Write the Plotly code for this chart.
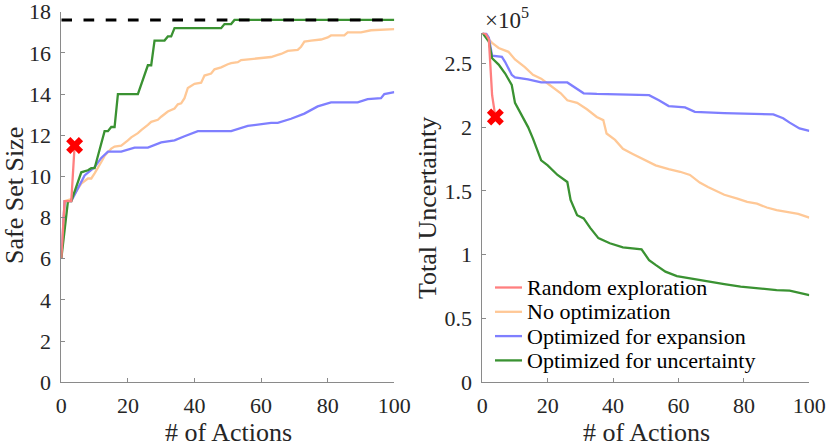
import plotly.graph_objects as go

# ---- left panel: safe set size ----
rand_x_l = [0, 1, 3, 4]
rand_y_l = [6, 8.8, 8.8, 11.5]

noopt_x_l = [0, 1, 3, 6, 8, 9, 10, 11, 12, 13, 15, 16, 18, 20, 21, 23, 24, 26, 27, 29,
             30, 32, 34, 35, 36, 37, 38, 40, 42, 43, 45, 46, 48, 50, 51, 53, 54, 57, 61, 63,
             65, 66, 68, 71, 72, 73, 75, 78, 80, 81, 85, 86, 90, 93, 100]
noopt_y_l = [6, 8.8, 8.9, 9.65, 9.9, 9.9, 10.15, 10.4, 10.7, 11.0, 11.35, 11.45, 11.5, 11.75, 11.9, 12.1, 12.25, 12.5, 12.65, 12.75,
             12.9, 13.15, 13.3, 13.5, 13.55, 13.8, 14.3, 14.5, 14.55, 14.9, 15.0, 15.2, 15.3, 15.45, 15.5, 15.55, 15.65, 15.7, 15.75, 15.8,
             15.9, 15.95, 16.1, 16.15, 16.3, 16.55, 16.6, 16.65, 16.75, 16.85, 16.85, 17.0, 17.0, 17.1, 17.15]

exp_x_l = [0, 1, 3, 7, 10, 12, 14, 18, 22, 26, 30, 34, 37, 41, 51, 56, 63, 65, 69, 73,
           77, 81, 89, 92, 96, 97, 100]
exp_y_l = [6, 8.8, 8.8, 10.05, 10.45, 10.9, 11.2, 11.2, 11.4, 11.4, 11.65, 11.75, 11.95, 12.2, 12.2, 12.45, 12.6, 12.6, 12.8, 13.05,
           13.4, 13.6, 13.6, 13.75, 13.8, 14.0, 14.1]

unc_x_l = [0, 2, 3, 6, 8, 9, 10, 13, 14, 15, 16, 17, 23, 26, 27, 28, 31, 32, 33, 34,
           48, 49, 51, 52, 100]
unc_y_l = [6, 8.8, 8.8, 10.2, 10.3, 10.4, 10.4, 12.2, 12.2, 12.4, 12.4, 14.0, 14.0, 15.4, 15.4, 16.6, 16.6, 16.8, 16.8, 17.2,
           17.2, 17.4, 17.4, 17.6, 17.6]

max_safe_x = [0, 100]
max_safe_y = [17.6, 17.6]

# ---- right panel: total uncertainty (x 1e5) ----
rand_x_r = [0, 1, 2, 3, 4]
rand_y_r = [2.74, 2.73, 2.69, 2.25, 2.08]

noopt_x_r = [0, 3, 5, 8, 10, 13, 15.5, 18, 20.6, 24, 26, 29, 32, 35, 37, 38, 40.6, 43, 46, 50,
             53, 57, 60.5, 63.5, 66.5, 69, 74, 78, 81, 84, 87, 90, 94, 96.6, 100]
noopt_y_r = [2.74, 2.66, 2.62, 2.59, 2.53, 2.47, 2.41, 2.38, 2.33, 2.265, 2.21, 2.19, 2.14, 2.08, 2.055, 1.95, 1.90, 1.83, 1.79, 1.74,
             1.70, 1.67, 1.65, 1.625, 1.565, 1.53, 1.47, 1.44, 1.415, 1.40, 1.37, 1.35, 1.335, 1.32, 1.29]

exp_x_r = [0, 1, 2, 3, 6, 7, 9, 10, 14, 18, 26, 31, 35, 51, 54, 57, 62, 65, 74, 89,
           92, 94, 97, 100]
exp_y_r = [2.74, 2.74, 2.70, 2.56, 2.55, 2.51, 2.41, 2.39, 2.375, 2.35, 2.35, 2.265, 2.26, 2.25, 2.21, 2.165, 2.155, 2.12, 2.11, 2.10,
           2.07, 2.035, 1.99, 1.97]

unc_x_r = [0, 2, 3, 5, 7, 9, 10, 12, 14, 15.5, 18, 20, 23, 26, 27, 29, 31, 33, 35.5, 39,
           43, 48.7, 51, 53, 56, 59.5, 63.5, 68.5, 74, 79, 84, 90, 94, 96.6, 100]
unc_y_r = [2.74, 2.67, 2.54, 2.49, 2.42, 2.33, 2.19, 2.095, 2.0, 1.91, 1.74, 1.70, 1.625, 1.57, 1.43, 1.31, 1.285, 1.21, 1.13, 1.09,
           1.058, 1.042, 0.958, 0.92, 0.867, 0.833, 0.815, 0.79, 0.77, 0.75, 0.737, 0.723, 0.718, 0.702, 0.684]

names = ["Random exploration", "No optimization", "Optimized for expansion", "Optimized for uncertainty"]
colors = ["#FF7F7F", "#FFC896", "#7F7FFF", "#3A9232"]

FONT = "Liberation Serif"
TXT = "#262626"
LW = 2.3
W, H = 830, 446

fig = go.Figure()

panels = [
    ("x", "y", [rand_x_l, noopt_x_l, exp_x_l, unc_x_l], [rand_y_l, noopt_y_l, exp_y_l, unc_y_l]),
    ("x2", "y2", [rand_x_r, noopt_x_r, exp_x_r, unc_x_r], [rand_y_r, noopt_y_r, exp_y_r, unc_y_r]),
]

for xa, ya, xs, ys in panels:
    # draw order: no opt, expansion, uncertainty, then random on top
    for i in [1, 2, 3, 0]:
        fig.add_trace(go.Scatter(
            x=xs[i], y=ys[i], mode="lines", name=names[i],
            line=dict(color=colors[i], width=LW),
            xaxis=xa, yaxis=ya, showlegend=False,
        ))
    # failure marker at the end of random exploration
    fig.add_trace(go.Scatter(
        x=[xs[0][-1]], y=[ys[0][-1]], mode="markers",
        marker=dict(symbol="x", size=15, color="#FF0000", line=dict(width=0)),
        xaxis=xa, yaxis=ya, showlegend=False,
    ))

fig.add_trace(go.Scatter(
    x=max_safe_x, y=max_safe_y, mode="lines",
    line=dict(color="black", width=3, dash="10.7px,11.5px"),
    xaxis="x", yaxis="y", showlegend=False,
))

axis_common = dict(
    showgrid=False, zeroline=False, showline=True, linecolor="#8a8a8a", linewidth=1,
    ticks="inside", ticklen=4, tickcolor="#8a8a8a",
    tickfont=dict(family=FONT, size=22, color=TXT),
    ticklabeloverflow="allow", automargin=False,
)

fig.update_layout(
    width=W, height=H,
    margin=dict(l=0, r=0, t=0, b=0),
    plot_bgcolor="white", paper_bgcolor="white",
    xaxis=dict(domain=[61.3 / W, 394.3 / W], range=[0, 100], tickvals=[0, 20, 40, 60, 80, 100],
               anchor="y", ticklabelstandoff=3, **axis_common),
    yaxis=dict(domain=[1 - 382.3 / H, 1 - 11.7 / H], range=[0, 18.001], tickvals=list(range(0, 19, 2)),
               anchor="x", ticklabelstandoff=5, **axis_common),
    xaxis2=dict(domain=[482.3 / W, 809.3 / W], range=[0, 100], tickvals=[0, 20, 40, 60, 80, 100],
                anchor="y2", ticklabelstandoff=3, **axis_common),
    yaxis2=dict(domain=[1 - 382.3 / H, 1 - 32.7 / H], range=[0, 2.74], tickvals=[0, 0.5, 1, 1.5, 2, 2.5],
                ticktext=["0", "0.5", "1", "1.5", "2", "2.5"],
                anchor="x2", ticklabelstandoff=5, **axis_common),
    showlegend=False,
)

# legend drawn by hand (MATLAB-style, no box)
leg_font = dict(family=FONT, size=22, color="black")
for k, (nm, col) in enumerate(zip(names, colors)):
    yc = 1 - (287.5 + 24.3 * k) / H
    fig.add_shape(type="line", xref="paper", yref="paper", x0=495 / W, x1=522 / W, y0=yc, y1=yc,
                  line=dict(color=col, width=LW))
    fig.add_annotation(text=nm, x=525 / W, y=yc, xref="paper", yref="paper", showarrow=False,
                       font=leg_font, xanchor="left", yanchor="middle")

title_font = dict(family=FONT, size=26, color=TXT)
fig.add_annotation(text="# of Actions", x=228 / W, y=1 - 432 / H, xref="paper", yref="paper",
                   showarrow=False, font=title_font, xanchor="center", yanchor="middle")
fig.add_annotation(text="# of Actions", x=646 / W, y=1 - 432 / H, xref="paper", yref="paper",
                   showarrow=False, font=title_font, xanchor="center", yanchor="middle")
fig.add_annotation(text="Safe Set Size", x=15 / W, y=1 - 196 / H, xref="paper", yref="paper",
                   showarrow=False, font=title_font, textangle=-90, xanchor="center", yanchor="middle")
fig.add_annotation(text="Total Uncertainty", x=427 / W, y=1 - 208 / H, xref="paper", yref="paper",
                   showarrow=False, font=title_font, textangle=-90, xanchor="center", yanchor="middle")
fig.add_annotation(text="×10<sup>5</sup>", x=483 / W, y=1 - 18 / H, xref="paper", yref="paper",
                   showarrow=False, font=dict(family=FONT, size=23, color=TXT),
                   xanchor="left", yanchor="middle")

fig.write_html("out.html", config={"displayModeBar": False},
               post_script="document.body.style.margin='0';document.body.style.overflow='hidden';")
